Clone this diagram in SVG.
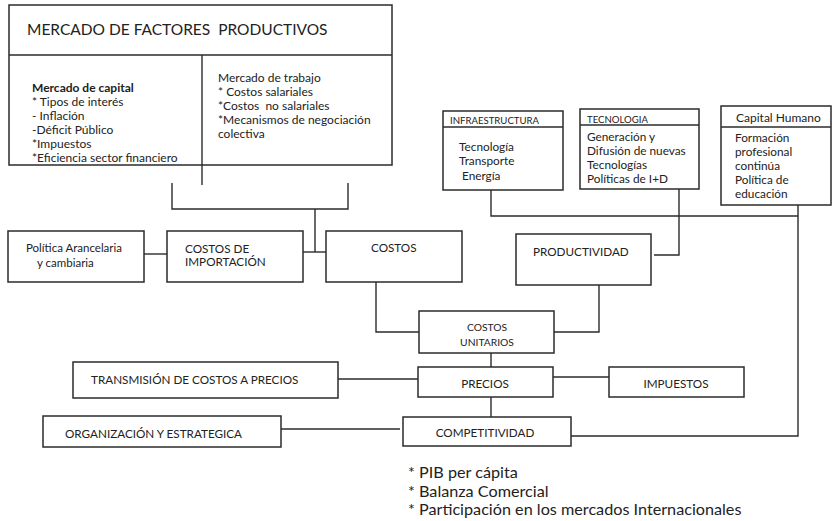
<svg xmlns="http://www.w3.org/2000/svg" width="832" height="521" viewBox="0 0 832 521">
<style>
  .box { fill: #fff; stroke: #2b2b2b; stroke-width: 1.5; }
  .ln { fill: none; stroke: #2b2b2b; stroke-width: 1.4; }
  text { font-family: Lato, "Open Sans", sans-serif; fill: #222; }
  .t12 { font-size: 12px; }
  .t11 { font-size: 11.8px; }
  .tb { font-size: 11.7px; }
  .t10 { font-size: 11.7px; }
  .t9 { font-size: 9.6px; }
</style>
<rect width="832" height="521" fill="#fff"/>

<g id="connectors">
  <path class="ln" d="M202,165 V185"/>
  <path class="ln" d="M172,183 V209 H348 V183 M315,209 V252"/>
  <path class="ln" d="M144,254 H167"/>
  <path class="ln" d="M303,252 H326"/>
  <path class="ln" d="M376,282 V332 H419"/>
  <path class="ln" d="M554,332 H599 V285"/>
  <path class="ln" d="M654,255 H679 V189"/>
  <path class="ln" d="M491,190 V216 H798"/>
  <path class="ln" d="M798,205 V436 H571"/>
  <path class="ln" d="M491,353 V367"/>
  <path class="ln" d="M338,379 H418"/>
  <path class="ln" d="M552,377 H610"/>
  <path class="ln" d="M491,397 V417"/>
  <path class="ln" d="M281,429 H400"/>
</g>

<g id="mercado-factores">
  <rect class="box" x="9" y="5" width="383" height="160"/>
  <line class="ln" x1="9" y1="55" x2="392" y2="55"/>
  <line class="ln" x1="202" y1="55" x2="202" y2="165"/>
  <text x="27" y="35" style="font-size:15.5px" xml:space="preserve">MERCADO DE FACTORES  PRODUCTIVOS</text>
  <text class="t12" x="32" y="92" font-weight="bold">Mercado de capital</text>
  <text class="t12" x="32" y="106" xml:space="preserve">* Tipos de interés</text>
  <text class="t12" x="32" y="120">- Inflación</text>
  <text class="t12" x="32" y="134">-Déficit Público</text>
  <text class="t12" x="32" y="148">*Impuestos</text>
  <text class="t12" x="32" y="162">*Eficiencia sector financiero</text>
  <text class="t12" x="218" y="82">Mercado de trabajo</text>
  <text class="t12" x="218" y="96" xml:space="preserve">* Costos salariales</text>
  <text class="t12" x="218" y="110" xml:space="preserve">*Costos  no salariales</text>
  <text class="t12" x="218" y="124">*Mecanismos de negociación</text>
  <text class="t12" x="218" y="138">colectiva</text>
</g>

<g id="infraestructura">
  <rect class="box" x="443" y="111" width="120" height="79"/>
  <line class="ln" x1="443" y1="127" x2="563" y2="127"/>
  <text class="t9" x="450" y="124">INFRAESTRUCTURA</text>
  <text class="t11" x="459" y="151">Tecnología</text>
  <text class="t11" x="459" y="165">Transporte</text>
  <text class="t11" x="462" y="180">Energía</text>
</g>

<g id="tecnologia">
  <rect class="box" x="580" y="109" width="119" height="80"/>
  <line class="ln" x1="580" y1="125" x2="699" y2="125"/>
  <text class="t9" x="587" y="123">TECNOLOGIA</text>
  <text class="t11" x="587" y="141">Generación y</text>
  <text class="t11" x="587" y="155">Difusión de nuevas</text>
  <text class="t11" x="587" y="169">Tecnologías</text>
  <text class="t11" x="587" y="183">Políticas de I+D</text>
</g>

<g id="capital-humano">
  <rect class="box" x="721" y="106" width="110" height="99"/>
  <line class="ln" x1="721" y1="127" x2="831" y2="127"/>
  <text x="736" y="122" style="font-size:12px">Capital Humano</text>
  <text class="t11" x="735" y="142">Formación</text>
  <text class="t11" x="735" y="156">profesional</text>
  <text class="t11" x="735" y="170">continúa</text>
  <text class="t11" x="735" y="184">Política de</text>
  <text class="t11" x="735" y="198">educación</text>
</g>

<g id="politica-arancelaria">
  <rect class="box" x="8" y="231" width="136" height="51"/>
  <text x="26" y="252" style="font-size:11.5px">Política Arancelaria</text>
  <text x="37" y="267" style="font-size:11.5px">y cambiaria</text>
</g>

<g id="costos-importacion">
  <rect class="box" x="167" y="231" width="136" height="51"/>
  <text class="tb" x="185" y="253">COSTOS DE</text>
  <text class="tb" x="185" y="266">IMPORTACIÓN</text>
</g>

<g id="costos">
  <rect class="box" x="326" y="231" width="136" height="51"/>
  <text class="tb" x="371" y="252">COSTOS</text>
</g>

<g id="productividad">
  <rect class="box" x="516" y="234" width="135" height="51"/>
  <text class="tb" x="533" y="256">PRODUCTIVIDAD</text>
</g>

<g id="costos-unitarios">
  <rect class="box" x="419" y="311" width="135" height="42"/>
  <text x="487" y="331" text-anchor="middle" style="font-size:10.3px">COSTOS</text>
  <text x="487" y="346" text-anchor="middle" style="font-size:10.3px">UNITARIOS</text>
</g>

<g id="transmision">
  <rect class="box" x="73" y="362" width="265" height="36"/>
  <text class="tb" x="91" y="384">TRANSMISIÓN DE COSTOS A PRECIOS</text>
</g>

<g id="precios">
  <rect class="box" x="418" y="367" width="135" height="30"/>
  <text class="t10" x="485" y="388" text-anchor="middle">PRECIOS</text>
</g>

<g id="impuestos">
  <rect class="box" x="609" y="367" width="135" height="30"/>
  <text class="t10" x="676" y="388" text-anchor="middle">IMPUESTOS</text>
</g>

<g id="organizacion">
  <rect class="box" x="43" y="416" width="238" height="31"/>
  <text class="tb" x="65" y="438">ORGANIZACIÓN Y ESTRATEGICA</text>
</g>

<g id="competitividad">
  <rect class="box" x="403" y="417" width="168" height="29"/>
  <text class="t10" x="485" y="437" text-anchor="middle">COMPETITIVIDAD</text>
</g>

<g id="indicadores">
  <text x="408" y="478" style="font-size:16.2px">* PIB per cápita</text>
  <text x="408" y="497" style="font-size:16.2px">* Balanza Comercial</text>
  <text x="408" y="515" style="font-size:16.2px">* Participación en los mercados Internacionales</text>
</g>
</svg>
